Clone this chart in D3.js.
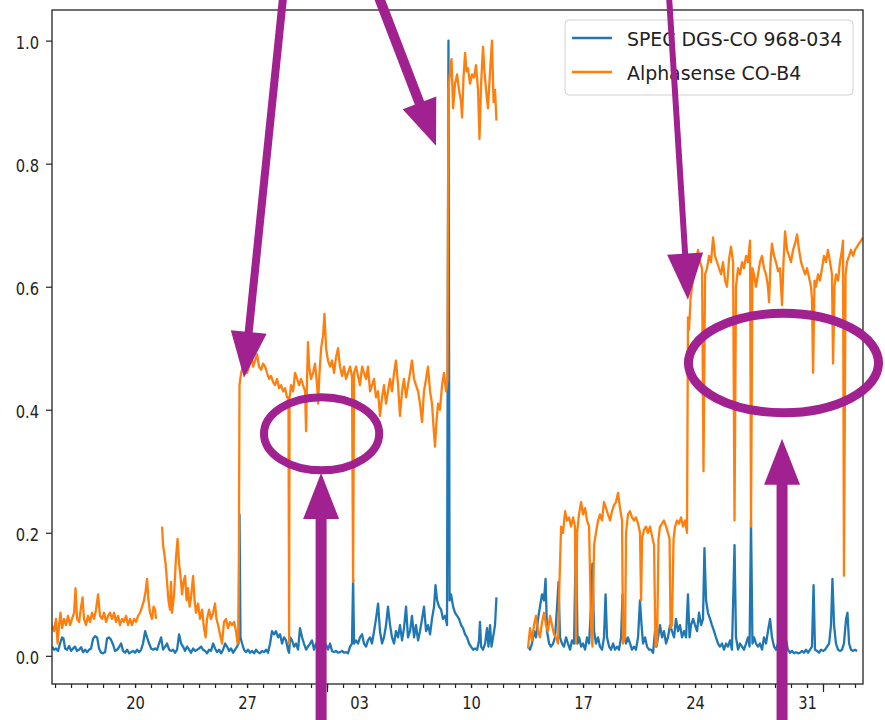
<!DOCTYPE html>
<html>
<head>
<meta charset="utf-8">
<script src="https://cdn.jsdelivr.net/npm/d3@7"></script>
<style>
  body { margin: 0; background: #fff; }
  svg text { font-family: "DejaVu Sans", sans-serif; fill: #222; }
</style>
</head>
<body>
<div id="chart"></div>
<script>

// Readings: [days since 2020-07-15 00:00, sensor value]; null marks a gap
const specBeforeGap = [
  [-0.19,.015],[-0.06,.01],[0.06,.012],[0.19,.008],[0.31,.02],[0.44,.03],[0.53,.028],[0.63,.012],[0.75,.01],[0.88,.016],
  [1.0,.008],[1.13,.012],[1.25,.015],[1.38,.008],[1.5,.01],[1.63,.014],[1.75,.006],[1.88,.01],[2.0,.006],[2.13,.01],
  [2.25,.012],[2.38,.028],[2.5,.032],[2.63,.03],[2.75,.012],[2.88,.005],[3.0,.004],[3.13,.006],[3.25,.028],[3.38,.03],
  [3.5,.026],[3.63,.018],[3.75,.008],[3.88,.01],[4.0,.014],[4.13,.02],[4.25,.008],[4.38,.005],[4.5,.01],[4.63,.004],
  [4.75,.006],[4.88,.008],[5.0,.005],[5.13,.01],[5.25,.006],[5.38,.01],[5.5,.02],[5.63,.04],[5.75,.03],[5.88,.02],
  [6.0,.012],[6.13,.01],[6.25,.012],[6.38,.01],[6.5,.02],[6.63,.03],[6.75,.01],[6.88,.015],[7.0,.02],[7.13,.01],
  [7.25,.008],[7.38,.01],[7.5,.005],[7.63,.01],[7.75,.035],[7.88,.02],[8.0,.015],[8.13,.008],[8.25,.015],[8.38,.01],
  [8.5,.005],[8.63,.012],[8.75,.008],[8.88,.01],[9.0,.012],[9.13,.015],[9.25,.01],[9.38,.008],[9.5,.004],[9.63,.01],
  [9.75,.008],[9.88,.02],[10.0,.012],[10.13,.006],[10.25,.01],[10.38,.004],[10.5,.01],[10.63,.02],[10.75,.015],[10.88,.008],
  [11.0,.012],[11.13,.005],[11.25,.01],[11.38,.015],[11.47,.02],[11.53,.23],[11.59,.03],[11.69,.02],[11.81,.01],[11.94,.006],
  [12.06,.01],[12.19,.005],[12.31,.008],[12.44,.004],[12.56,.01],[12.69,.006],[12.81,.004],[12.94,.008],[13.06,.006],[13.19,.01],
  [13.31,.005],[13.44,.02],[13.56,.04],[13.69,.035],[13.81,.04],[13.94,.03],[14.06,.035],[14.19,.02],[14.31,.03],[14.44,.025],
  [14.56,.01],[14.63,.005],[14.69,.03],[14.81,.025],[14.94,.015],[15.06,.02],[15.19,.01],[15.31,.045],[15.44,.03],[15.56,.02],
  [15.69,.01],[15.81,.015],[15.94,.02],[16.06,.025],[16.19,.01],[16.31,.02],[16.44,.015],[16.56,.025],[16.69,.012],[16.81,.02],
  [16.94,.018],[17.06,.01],[17.19,.02],[17.31,.008],[17.44,.006],[17.56,.008],[17.69,.005],[17.81,.006],[17.94,.008],[18.06,.005],
  [18.19,.006],[18.31,.004],[18.44,.015],[18.56,.02],[18.63,.125],[18.69,.02],[18.81,.025],[18.94,.02],[19.06,.03],[19.19,.035],
  [19.31,.02],[19.44,.015],[19.56,.025],[19.69,.03],[19.81,.02],[19.94,.04],[20.06,.06],[20.19,.085],[20.31,.04],[20.44,.02],
  [20.56,.03],[20.69,.05],[20.81,.08],[20.94,.05],[21.06,.03],[21.19,.02],[21.31,.04],[21.44,.03],[21.56,.05],[21.69,.025],
  [21.81,.045],[21.94,.08],[22.06,.03],[22.19,.04],[22.31,.065],[22.44,.03],[22.56,.05],[22.69,.025],[22.81,.04],[22.94,.06],
  [23.06,.08],[23.19,.04],[23.31,.05],[23.44,.035],[23.56,.06],[23.69,.08],[23.78,.115],[23.88,.09],[24.0,.08],[24.13,.075],
  [24.25,.06],[24.38,.065],[24.5,.05],[24.59,1.0],[24.66,.09],[24.75,.1],[24.88,.08],[25.0,.07],[25.13,.065],[25.25,.06],
  [25.38,.05],[25.5,.045],[25.63,.035],[25.75,.03],[25.88,.02],[26.0,.015],[26.13,.01],[26.25,.012],[26.38,.01],[26.5,.025],
  [26.56,.055],[26.63,.015],[26.75,.01],[26.88,.02],[27.0,.045],[27.09,.015],[27.19,.05],[27.28,.015],[27.38,.03],[27.5,.05],
  [27.59,.095]
]

const specAfterGap = [
  [29.56,.015],[29.69,.01],[29.81,.02],[29.94,.04],[30.06,.03],[30.19,.06],[30.31,.08],[30.44,.1],[30.56,.09],[30.66,.125],
  [30.75,.04],[30.88,.02],[31.0,.015],[31.13,.02],[31.25,.03],[31.38,.08],[31.47,.12],[31.56,.03],[31.69,.02],[31.81,.015],
  [31.94,.03],[32.06,.02],[32.19,.01],[32.31,.025],[32.44,.02],[32.56,.2],[32.66,.02],[32.75,.03],[32.88,.015],[33.0,.02],
  [33.13,.01],[33.25,.03],[33.38,.02],[33.5,.08],[33.59,.15],[33.69,.04],[33.81,.02],[33.94,.03],[34.06,.015],[34.19,.01],
  [34.31,.03],[34.41,.1],[34.5,.03],[34.63,.015],[34.75,.01],[34.88,.02],[35.0,.01],[35.13,.015],[35.25,.01],[35.38,.03],
  [35.47,.1],[35.56,.04],[35.69,.02],[35.81,.03],[35.94,.02],[36.06,.01],[36.19,.015],[36.31,.01],[36.44,.03],[36.56,.09],
  [36.66,.05],[36.75,.02],[36.88,.03],[37.0,.015],[37.13,.01],[37.25,.01],[37.38,.005],[37.5,.04],[37.59,.015],[37.69,.03],
  [37.81,.05],[37.94,.03],[38.06,.04],[38.19,.02],[38.31,.03],[38.44,.05],[38.56,.04],[38.69,.03],[38.81,.06],[38.94,.04],
  [39.06,.05],[39.19,.03],[39.31,.04],[39.44,.03],[39.56,.1],[39.66,.03],[39.75,.05],[39.88,.06],[40.0,.05],[40.13,.04],
  [40.25,.07],[40.38,.05],[40.5,.06],[40.59,.175],[40.69,.09],[40.81,.07],[40.94,.06],[41.06,.05],[41.19,.04],[41.31,.03],
  [41.44,.02],[41.56,.015],[41.69,.02],[41.81,.01],[41.94,.02],[42.06,.015],[42.19,.025],[42.31,.01],[42.47,.18],[42.56,.03],
  [42.69,.01],[42.81,.02],[42.94,.015],[43.06,.01],[43.19,.02],[43.31,.03],[43.41,.015],[43.5,.22],[43.59,.02],[43.69,.03],
  [43.81,.02],[43.94,.015],[44.06,.02],[44.19,.01],[44.31,.03],[44.44,.02],[44.56,.04],[44.69,.06],[44.81,.03],[44.94,.015],
  [45.06,.01],[45.19,.02],[45.31,.015],[45.44,.01],[45.56,.015],[45.69,.025],[45.81,.01],[45.94,.005],[46.06,.008],[46.19,.004],
  [46.31,.006],[46.44,.004],[46.56,.005],[46.69,.008],[46.81,.005],[46.94,.01],[47.06,.005],[47.19,.01],[47.31,.015],[47.41,.115],
  [47.5,.01],[47.63,.008],[47.75,.005],[47.88,.01],[48.0,.008],[48.13,.01],[48.25,.015],[48.38,.02],[48.5,.05],[48.59,.125],
  [48.69,.05],[48.81,.02],[48.94,.01],[49.06,.008],[49.19,.01],[49.31,.02],[49.44,.06],[49.53,.07],[49.63,.02],[49.75,.01],
  [49.88,.008],[50.0,.01],[50.13,.008]
]

const alphaBeforeGap = [
  [-0.19,.05],[-0.06,.04],[0.06,.06],[0.16,.02],[0.25,.05],[0.34,.07],[0.44,.045],[0.56,.06],[0.69,.05],[0.81,.065],
  [0.94,.05],[1.06,.06],[1.19,.07],[1.28,.11],[1.38,.06],[1.5,.055],[1.63,.08],[1.72,.095],[1.81,.06],[1.94,.05],
  [2.06,.065],[2.19,.055],[2.31,.07],[2.44,.06],[2.56,.075],[2.69,.1],[2.81,.065],[2.94,.06],[3.06,.07],[3.19,.055],
  [3.31,.065],[3.44,.07],[3.56,.06],[3.69,.07],[3.81,.055],[3.94,.065],[4.06,.05],[4.19,.06],[4.31,.055],[4.44,.065],
  [4.56,.05],[4.69,.06],[4.81,.05],[4.94,.06],[5.06,.055],[5.19,.065],[5.31,.07],[5.44,.08],[5.56,.09],[5.66,.105],
  [5.75,.125],[5.84,.09],[5.94,.07],[6.06,.06],[6.16,.08],[6.25,.075],[6.31,.06],[6.5,null],[6.69,.21],[6.75,.18],
  [6.81,.17],[6.91,.15],[7.0,.12],[7.09,.09],[7.19,.075],[7.25,.12],[7.31,.07],[7.44,.1],[7.56,.16],[7.66,.19],
  [7.75,.15],[7.84,.13],[7.94,.1],[8.03,.12],[8.13,.13],[8.22,.09],[8.31,.11],[8.41,.08],[8.5,.095],[8.63,.13],
  [8.72,.09],[8.81,.07],[8.94,.085],[9.06,.06],[9.19,.075],[9.31,.045],[9.41,.03],[9.5,.06],[9.63,.075],[9.75,.06],
  [9.88,.07],[10.0,.085],[10.09,.06],[10.19,.05],[10.31,.035],[10.44,.02],[10.56,.055],[10.69,.06],[10.81,.045],[10.94,.055],
  [11.06,.05],[11.19,.055],[11.31,.04],[11.41,.02],[11.47,.03],[11.53,.44],[11.63,.46],[11.75,.47],[11.88,.48],[12.0,.46],
  [12.13,.47],[12.25,.49],[12.38,.47],[12.5,.48],[12.63,.49],[12.75,.47],[12.88,.465],[13.0,.475],[13.13,.47],[13.25,.46],
  [13.38,.45],[13.5,.455],[13.63,.445],[13.75,.44],[13.88,.45],[14.0,.435],[14.13,.44],[14.25,.43],[14.38,.435],[14.5,.42],
  [14.59,.42],[14.63,.02],[14.66,.42],[14.75,.44],[14.88,.43],[15.0,.46],[15.13,.45],[15.25,.44],[15.38,.45],[15.5,.44],
  [15.63,.43],[15.69,.365],[15.75,.45],[15.81,.51],[15.88,.47],[16.0,.45],[16.13,.46],[16.25,.475],[16.38,.44],[16.44,.41],
  [16.53,.46],[16.63,.5],[16.75,.52],[16.84,.556],[16.94,.5],[17.06,.48],[17.19,.47],[17.31,.48],[17.44,.46],[17.56,.485],
  [17.69,.5],[17.81,.47],[17.94,.455],[18.06,.47],[18.19,.45],[18.31,.46],[18.44,.47],[18.56,.455],[18.63,.12],[18.69,.46],
  [18.81,.47],[18.94,.455],[19.06,.44],[19.19,.47],[19.31,.46],[19.44,.45],[19.56,.47],[19.69,.43],[19.81,.44],[19.94,.45],
  [20.06,.42],[20.19,.43],[20.31,.39],[20.44,.42],[20.56,.44],[20.69,.41],[20.81,.43],[20.94,.45],[21.06,.43],[21.19,.46],
  [21.31,.48],[21.44,.44],[21.56,.39],[21.69,.43],[21.81,.45],[21.94,.42],[22.06,.44],[22.19,.46],[22.31,.48],[22.44,.45],
  [22.56,.44],[22.69,.43],[22.81,.41],[22.94,.38],[23.06,.43],[23.19,.45],[23.31,.47],[23.44,.43],[23.56,.41],[23.69,.36],
  [23.75,.34],[23.84,.38],[23.94,.41],[24.06,.4],[24.19,.44],[24.31,.46],[24.44,.43],[24.53,.45],[24.59,.92],[24.69,.95],
  [24.78,.97],[24.88,.89],[25.0,.93],[25.13,.945],[25.25,.92],[25.38,.9],[25.44,.875],[25.53,.94],[25.63,.98],[25.72,.95],
  [25.81,.955],[25.94,.93],[26.06,.945],[26.19,.94],[26.31,.96],[26.44,.92],[26.53,.84],[26.63,.93],[26.75,.99],[26.84,.95],
  [26.94,.92],[27.06,.89],[27.19,.95],[27.31,1.0],[27.41,.9],[27.5,.92],[27.59,.87]
]

const alphaAfterGap = [
  [29.56,.012],[29.69,.045],[29.81,.025],[29.94,.05],[30.06,.065],[30.19,.04],[30.31,.03],[30.44,.055],[30.56,.07],[30.69,.05],
  [30.81,.04],[30.94,.065],[31.06,.05],[31.19,.035],[31.31,.03],[31.44,.02],[31.53,.12],[31.63,.21],[31.75,.2],[31.88,.235],
  [32.0,.22],[32.13,.225],[32.25,.21],[32.38,.225],[32.5,.21],[32.56,.02],[32.63,.2],[32.75,.23],[32.88,.25],[33.0,.23],
  [33.13,.24],[33.25,.22],[33.38,.21],[33.5,.05],[33.59,.015],[33.69,.18],[33.81,.2],[33.94,.22],[34.06,.23],[34.19,.22],
  [34.31,.25],[34.44,.24],[34.56,.23],[34.69,.22],[34.81,.235],[34.94,.245],[35.06,.25],[35.19,.265],[35.31,.24],[35.44,.22],
  [35.5,.02],[35.63,.03],[35.69,.2],[35.81,.23],[35.94,.235],[36.06,.225],[36.19,.22],[36.31,.225],[36.44,.215],[36.56,.2],
  [36.63,.09],[36.69,.19],[36.81,.205],[36.94,.21],[37.06,.2],[37.19,.21],[37.31,.195],[37.44,.18],[37.53,.015],[37.63,.02],
  [37.72,.19],[37.81,.21],[37.94,.215],[38.06,.22],[38.19,.21],[38.31,.2],[38.41,.19],[38.47,.045],[38.56,.05],[38.66,.19],
  [38.75,.21],[38.88,.22],[39.0,.215],[39.13,.225],[39.25,.21],[39.38,.22],[39.5,.2],[39.56,.55],[39.63,.53],[39.72,.58],
  [39.81,.6],[39.94,.62],[40.06,.64],[40.19,.66],[40.31,.64],[40.44,.63],[40.53,.3],[40.63,.62],[40.75,.63],[40.88,.65],
  [41.0,.64],[41.13,.68],[41.25,.65],[41.38,.64],[41.5,.63],[41.63,.62],[41.75,.64],[41.88,.61],[42.0,.6],[42.13,.645],
  [42.25,.665],[42.38,.64],[42.47,.22],[42.56,.6],[42.69,.63],[42.81,.62],[42.94,.64],[43.06,.63],[43.19,.65],[43.31,.64],
  [43.44,.675],[43.5,.21],[43.59,.63],[43.69,.62],[43.81,.6],[43.94,.62],[44.06,.64],[44.19,.65],[44.31,.63],[44.44,.62],
  [44.56,.6],[44.63,.575],[44.72,.64],[44.81,.67],[44.94,.65],[45.06,.64],[45.19,.625],[45.31,.63],[45.44,.57],[45.53,.64],
  [45.63,.69],[45.75,.66],[45.88,.65],[46.0,.64],[46.13,.66],[46.25,.67],[46.38,.685],[46.5,.66],[46.63,.64],[46.75,.63],
  [46.88,.62],[47.0,.63],[47.13,.615],[47.25,.6],[47.31,.58],[47.38,.46],[47.47,.61],[47.56,.6],[47.69,.62],[47.81,.61],
  [47.94,.63],[48.06,.65],[48.19,.64],[48.31,.66],[48.44,.64],[48.56,.62],[48.63,.475],[48.72,.6],[48.81,.62],[48.94,.61],
  [49.06,.64],[49.19,.66],[49.25,.675],[49.31,.13],[49.41,.62],[49.5,.64],[49.63,.65],[49.75,.66],[49.88,.65],[50.0,.66],
  [50.13,.665],[50.25,.67],[50.38,.675],[50.5,.68]
]

const seriesNames = ["SPEC DGS-CO 968-034", "Alphasense CO-B4"]
const seriesColors = ["#1f77b4", "#ff7f0e"]
const yTickValues = [0.0, 0.2, 0.4, 0.6, 0.8, 1.0]

// Hand-drawn marks over the chart, in data units: [t0, v0, tip t, tip v, width]
const arrows = [
  [14.25, 1.07, 11.81, 0.452, 8],
  [20.25, 1.07, 23.81, 0.829, 10],
  [38.38, 1.07, 39.56, 0.579, 6],
  [16.63, -0.111, 16.63, 0.297, 11],
  [45.44, -0.111, 45.44, 0.353, 11]
]
// [center t, center v, radius in days, radius in value, width]
const ellipses = [
  [16.66, 0.361, 3.6, 0.0595, 8],
  [45.53, 0.476, 5.94, 0.0808, 9]
]
const markColor = "#a0218f"

const startDate = new Date(2020, 6, 15)
const toDate = t => new Date(startDate.getTime() + t * 86400000)

// Create SVG
let outerWidth = 885
let outerHeight = 720
let margin = {top: 10, bottom: 36, left: 52, right: 22}
let width = outerWidth - margin.left - margin.right
let height = outerHeight - margin.top - margin.bottom
const textScale = 0.84

const svg = d3.select("#chart")
    .append("svg")
    .attr("width", outerWidth)
    .attr("height", outerHeight)

const g = svg.append("g")
    .attr("transform", `translate(${margin.left}, ${margin.top})`)

const allPoints = [specBeforeGap, specAfterGap, alphaBeforeGap, alphaAfterGap].flat()
const allValues = allPoints.map(d => d[1]).filter(v => v !== null)
const lo = d3.min(allValues), hi = d3.max(allValues)
const pad = (hi - lo) * 0.05

const x = d3.scaleTime()
    .domain(d3.extent(allPoints, d => toDate(d[0])))
    .range([0, width])

const y = d3.scaleLinear()
    .domain([lo - pad, hi + pad])
    .range([height, 0])

// Axes
const [d0, d1] = x.domain()

g.append("g")
    .attr("transform", `translate(0, ${height})`)
    .call(d3.axisBottom(x).tickValues(d3.timeDay.range(d3.timeDay.ceil(d0), d1)).tickSize(4).tickFormat(""))

g.append("g")
    .attr("transform", `translate(0, ${height})`)
    .call(d3.axisBottom(x).tickValues(d3.timeMonth.range(d3.timeMonth.ceil(d0), d1)).tickSize(8).tickFormat(""))

const xAxis = g.append("g")
    .attr("transform", `translate(0, ${height})`)
    .call(d3.axisBottom(x).tickValues(d3.timeMonday.range(d3.timeDay.ceil(d0), d1)).tickSize(4).tickFormat(d3.timeFormat("%d")))

xAxis.selectAll("text")
    .attr("y", 25)
    .attr("dy", 0)
    .attr("transform", `scale(${textScale}, 1)`)

const yAxis = g.append("g")
    .call(d3.axisLeft(y).tickValues(yTickValues).tickSize(6).tickFormat(d3.format(".1f")))

yAxis.selectAll("text")
    .attr("x", -13 / textScale)
    .attr("dy", 7.5)
    .attr("transform", `scale(${textScale}, 1)`)

svg.selectAll(".tick text").style("font-size", "17.5px").style("font-family", "DejaVu Sans").attr("fill", "#262626")
svg.selectAll(".tick line").attr("stroke", "#222").attr("stroke-width", 1.2)
svg.selectAll(".domain").remove()

// Lines
g.append("clipPath").attr("id", "plot-clip")
    .append("rect").attr("width", width).attr("height", height)

const line = d3.line()
    .defined(d => d[1] !== null)
    .x(d => x(toDate(d[0])))
    .y(d => y(d[1]))

const series = [[specBeforeGap, specAfterGap], [alphaBeforeGap, alphaAfterGap]]
series.forEach((parts, i) => {
    parts.forEach(part => {
        g.append("path")
            .attr("clip-path", "url(#plot-clip)")
            .attr("d", line(part))
            .attr("fill", "none")
            .attr("stroke", seriesColors[i])
            .attr("stroke-width", 2.3)
            .attr("stroke-linejoin", "round")
    })
})

// Frame
g.append("rect")
    .attr("width", width)
    .attr("height", height)
    .attr("fill", "none")
    .attr("stroke", "#222")
    .attr("stroke-width", 1.3)

// Legend
const legend = svg.append("g").attr("transform", "translate(565, 20)")
legend.append("rect")
    .attr("width", 288)
    .attr("height", 75)
    .attr("rx", 4)
    .attr("fill", "white")
    .attr("fill-opacity", 0.8)
    .attr("stroke", "#d0d0d0")

seriesNames.forEach((name, i) => {
    legend.append("line")
        .attr("x1", 7).attr("x2", 47)
        .attr("y1", 18 + i * 34).attr("y2", 18 + i * 34)
        .attr("stroke", seriesColors[i])
        .attr("stroke-width", 2.4)
    legend.append("text")
        .attr("x", 62 / 0.945)
        .attr("y", 26.5 + i * 34)
        .attr("transform", "scale(0.945, 1)")
        .style("font-size", "20px")
        .text(name)
})

// Purple annotation marks
const marks = svg.append("g").attr("transform", `translate(${margin.left}, ${margin.top})`)

arrows.forEach(([t0, v0, t1, v1, w]) => {
    const p0 = [x(toDate(t0)), y(v0)]
    const p1 = [x(toDate(t1)), y(v1)]
    const len = Math.hypot(p1[0] - p0[0], p1[1] - p0[1])
    const dir = [(p1[0] - p0[0]) / len, (p1[1] - p0[1]) / len]
    const perp = [-dir[1], dir[0]]
    const headLen = 46, headHalf = 18
    const base = [p1[0] - dir[0] * headLen, p1[1] - dir[1] * headLen]
    marks.append("line")
        .attr("x1", p0[0]).attr("y1", p0[1])
        .attr("x2", base[0] + dir[0] * 2).attr("y2", base[1] + dir[1] * 2)
        .attr("stroke", markColor)
        .attr("stroke-width", w)
    marks.append("path")
        .attr("d", d3.line()([
            [base[0] + perp[0] * headHalf, base[1] + perp[1] * headHalf],
            p1,
            [base[0] - perp[0] * headHalf, base[1] - perp[1] * headHalf]
        ]) + "Z")
        .attr("fill", markColor)
})

ellipses.forEach(([t, v, rt, rv, w]) => {
    const cx = x(toDate(t)), cy = y(v)
    marks.append("ellipse")
        .attr("cx", cx)
        .attr("cy", cy)
        .attr("rx", x(toDate(t + rt)) - cx)
        .attr("ry", y(v - rv) - cy)
        .attr("fill", "none")
        .attr("stroke", markColor)
        .attr("stroke-width", w)
})

</script>
</body>
</html>
